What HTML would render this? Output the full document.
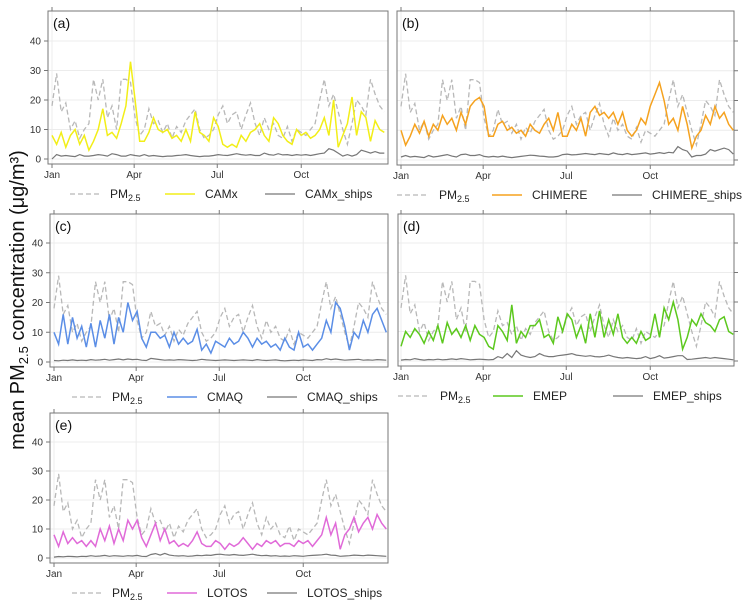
<!DOCTYPE html>
<html><head><meta charset="utf-8"><style>
html,body{margin:0;padding:0;background:#fff;}
svg{display:block;font-family:"Liberation Sans",sans-serif;}
</style></head><body>
<svg id="chart" width="744" height="609" viewBox="0 0 744 609">
<text transform="translate(24,300) rotate(-90)" text-anchor="middle" font-size="20" fill="#111">mean PM<tspan font-size="13" dy="4">2.5</tspan><tspan dy="-4"> concentration (μg/m³)</tspan></text>
</svg>
<script>
const obs = [18,29,16,19,10,13,7,10,12,27,20,27,14,18,10,27,27,26,14,8,10,17,12,13,9,12,7,11,9,13,15,17,10,7,8,10,15,18,12,15,16,10,15,19,12,8,14,10,12,8,7,11,6,10,9,8,10,12,20,27,18,22,16,10,5,12,20,18,15,27,22,18,16];
const camx = [8,5,9,4,8,10,5,8,3,6,10,17,8,9,7,12,18,33,20,6,6,9,14,10,9,10,7,8,6,10,6,16,9,8,6,14,11,5,4,5,4,8,6,9,10,12,8,6,14,12,8,6,5,10,8,9,7,8,10,14,8,20,4,8,12,21,8,16,14,6,13,10,9];
const camxShips = [0,1.5,1,1.2,1,0.8,1.5,1,1,1.2,1.5,1.3,1,1.8,1.5,1,1,1.5,1.2,1,1.5,1,1.2,1,0.8,1,1,1.2,1.3,1.5,1.2,1,0.8,1,1,1.2,1.5,1.3,1.2,1.5,1.8,1.5,1.3,1.5,1.2,1.2,2,1.5,1.3,1.8,1.4,1.5,1.2,1.5,1.3,1.5,1.2,1.5,1.8,2,3.5,3,2,1,1.5,1,1.5,3,2.5,2,2.5,2,2];
const chimere = [10,5,8,12,9,13,8,12,10,15,12,14,10,16,12,18,20,21,18,8,8,12,13,10,11,9,10,8,12,10,9,12,14,10,16,8,8,12,10,14,8,16,18,15,16,14,16,12,16,10,8,10,14,12,18,22,26,20,12,14,10,18,12,4,8,10,15,12,18,14,16,12,10];
const chimereShips = [1,1.5,1,1.2,1,0.8,1.5,1,1.2,1.5,1.8,1.3,1,1.8,2,1.5,1.5,1.8,1.2,1,1.2,1,1.3,1,0.8,1,1.2,1.4,1.6,1.5,1.3,1.2,1,1,1.2,1.8,2,1.7,1.8,2,2.2,2,1.8,2.2,2,1.8,2.4,2,1.8,2.2,1.8,2,2.2,2.4,2,2.2,2.5,2.2,2.6,2.4,4.5,3.5,3,1,1.5,1.5,2,3.5,3,3.5,4,3.5,2];
const cmaq = [10,6,16,6,15,8,12,5,13,5,14,8,16,6,15,10,20,14,17,8,5,10,10,8,9,5,10,6,8,6,7,11,4,6,3,7,6,5,8,6,7,10,8,5,8,6,7,5,6,4,8,5,4,10,5,6,4,6,8,14,10,20,18,12,4,10,8,14,10,16,18,14,10];
const cmaqShips = [0.5,0.4,0.6,0.5,0.7,0.5,0.6,0.5,0.8,0.6,0.7,0.9,0.6,0.8,1,0.7,1,0.8,0.9,0.6,0.5,1.2,1,0.8,0.6,0.7,0.6,0.8,0.7,0.6,0.5,0.6,0.9,0.7,0.6,0.5,0.6,0.7,0.6,0.5,0.6,0.7,0.6,0.5,0.8,0.6,0.5,0.6,0.7,0.5,0.4,0.5,0.6,0.5,0.7,0.6,0.5,0.8,0.7,1.1,0.8,1,0.8,0.6,0.7,0.8,0.9,0.6,0.7,0.6,0.8,0.7,0.6];
const emep = [5,10,8,11,9,6,10,7,12,6,13,9,11,8,12,7,12,9,8,5,4,12,10,7,19,6,10,8,12,12,14,8,9,6,15,10,16,14,8,12,6,16,8,17,8,14,9,16,8,6,8,6,10,7,8,16,8,18,14,20,14,4,8,14,12,16,13,12,10,14,15,10,9];
const emepShips = [0.3,0.5,0.4,0.8,0.5,0.3,0.5,0.4,0.6,0.4,0.5,0.7,0.5,0.8,0.6,0.4,0.5,0.6,0.5,0.4,0.5,1.5,1,2.5,1.2,3.5,2,1.5,1.2,1.5,2.5,1.8,1.5,1.5,1.8,2,2.2,2.5,2,1.8,1.6,1.8,1.5,1.4,1.6,2,1.5,1.2,1,1.2,1,0.8,1,1.5,0.8,1.2,1.8,1,1.2,1.5,1.8,1.8,0.5,0.6,0.8,1,1.2,0.9,1.2,1,0.8,0.6,0.4];
const lotos = [8,4,9,5,7,5,6,4,6,4,10,6,11,5,10,6,13,10,13,7,4,8,12,6,10,5,6,4,5,4,6,9,5,4,4,6,5,3,5,4,5,7,5,3,5,4,6,5,6,4,5,5,4,6,5,6,4,6,8,14,8,12,3,8,10,14,9,12,14,10,15,12,10];
const lotosShips = [0.3,0.5,0.4,0.6,0.5,0.4,0.6,0.5,0.8,0.6,0.7,0.9,0.6,0.8,0.7,0.6,0.8,0.7,0.9,0.6,0.5,1.2,1.5,1,1.6,1,0.8,0.7,0.8,0.6,0.7,0.9,0.8,1,0.9,1.2,1.3,1.1,1,1.2,1,0.9,1.1,1.3,1,0.8,0.9,0.7,0.8,0.6,0.7,0.6,0.8,0.7,0.6,0.8,0.9,1,1.1,1.3,1,0.9,0.6,0.7,0.8,1,0.9,0.8,1,0.9,0.8,0.7,0.6];
const yTicks = [0,10,20,30,40];
const monthLabels = ["Jan","Apr","Jul","Oct"];
const monthDays = [0,90,181,273];

const panels = [
 {id:"a",name:"CAMx",color:"#f2ee18",model:camx,ships:camxShips,bx0:48,bx1:388,top:11,y0:159,y40:41,jan:52,left:true},
 {id:"b",name:"CHIMERE",color:"#f5a21f",model:chimere,ships:chimereShips,bx0:397,bx1:734,top:11,y0:160,y40:41,jan:401,left:false},
 {id:"c",name:"CMAQ",color:"#5b8ee6",model:cmaq,ships:cmaqShips,bx0:50,bx1:388,top:214,y0:362,y40:243,jan:54,left:true},
 {id:"d",name:"EMEP",color:"#5cc81e",model:emep,ships:emepShips,bx0:398,bx1:734,top:214,y0:361,y40:243,jan:401,left:false},
 {id:"e",name:"LOTOS",color:"#e06ad8",model:lotos,ships:lotosShips,bx0:50,bx1:388,top:413,y0:558,y40:442,jan:54,left:true}
];
const NS="http://www.w3.org/2000/svg";
const svg=document.getElementById("chart");
function mk(tag,attrs,parent){const e=document.createElementNS(NS,tag);for(const k in attrs)e.setAttribute(k,attrs[k]);(parent||svg).appendChild(e);return e;}
panels.forEach(p=>{
 const g=mk("g",{});
 
 
 const pxDay=0.913;
 const xs=d=>p.jan+d*pxDay;
 const ys=v=>p.y0-(v/40)*(p.y0-p.y40);
 const bottom=p.y0+5;
 const xi=(i,n)=>xs(i*364/(n-1));
 yTicks.forEach(t=>{const l=mk("line",{x1:p.bx0,x2:p.bx1,y1:ys(t),y2:ys(t),stroke:"#ececec","stroke-width":1},g);
  });
 monthDays.forEach((d,i)=>{const l=mk("line",{x1:xs(d),x2:xs(d),y1:p.top,y2:bottom,stroke:"#ececec","stroke-width":1},g);
  });
 const b=mk("rect",{x:p.bx0,y:p.top,width:p.bx1-p.bx0,height:bottom-p.top,fill:"none",stroke:"#777","stroke-width":1},g);
 
 yTicks.forEach(t=>{
  const tx=p.left?p.bx0:p.bx1; const dir=p.left?-4:4;
  mk("line",{x1:tx,x2:tx+dir,y1:ys(t),y2:ys(t),stroke:"#777"},g);
  if(p.left){const tt=mk("text",{x:p.bx0-7,y:ys(t)+3.5,"text-anchor":"end","font-size":10,fill:"#333"},g);tt.textContent=t;
   }
 });
 monthDays.forEach((d,i)=>{
  mk("line",{x1:xs(d),x2:xs(d),y1:bottom,y2:bottom+4,stroke:"#777"},g);
  mk("line",{x1:xs(d),x2:xs(d),y1:p.top,y2:p.top-4,stroke:"#777"},g);
  const tt=mk("text",{x:xs(d),y:bottom+14,"text-anchor":"middle","font-size":10,fill:"#333"},g);tt.textContent=monthLabels[i];
  
 });
 const lab=mk("text",{x:p.bx0+5,y:p.top+17,"font-size":14,fill:"#111"},g);lab.textContent="("+p.id+")";
 
 const path=(arr)=>arr.map((v,i)=>(i?"L":"M")+xi(i,arr.length).toFixed(1)+","+ys(v).toFixed(1)).join("");
 const o=mk("path",{d:path(obs),fill:"none",stroke:"#b8b8b8","stroke-width":1.3,"stroke-dasharray":"5,3"},g);
 
 const sh=mk("path",{d:path(p.ships),fill:"none",stroke:"#777","stroke-width":1.2},g);
 
 const m=mk("path",{d:path(p.model),fill:"none",stroke:p.color,"stroke-width":1.5},g);
 
 const ly=bottom+30; const lx=p.left?p.bx0+22:p.bx0;
 const off=p.left?[0,40,95,135,195,235]:[0,42,95,135,215,255];
 const lg=mk("g",{},g);
 
 mk("line",{x1:lx+off[0],x2:lx+off[0]+30,y1:ly,y2:ly,stroke:"#b8b8b8","stroke-width":1.3,"stroke-dasharray":"5,3"},lg);
 const t1=mk("text",{x:lx+off[1],y:ly+4,"font-size":12,fill:"#222"},lg);
 t1.innerHTML='PM<tspan font-size="9" dy="3">2.5</tspan>';
 mk("line",{x1:lx+off[2],x2:lx+off[2]+30,y1:ly,y2:ly,stroke:p.color,"stroke-width":1.6},lg);
 const t2=mk("text",{x:lx+off[3],y:ly+4,"font-size":12,fill:"#222"},lg);t2.textContent=p.name;
 mk("line",{x1:lx+off[4],x2:lx+off[4]+30,y1:ly,y2:ly,stroke:"#777","stroke-width":1.3},lg);
 const t3=mk("text",{x:lx+off[5],y:ly+4,"font-size":12,fill:"#222"},lg);t3.textContent=p.name+"_ships";
});
</script>
</body></html>
